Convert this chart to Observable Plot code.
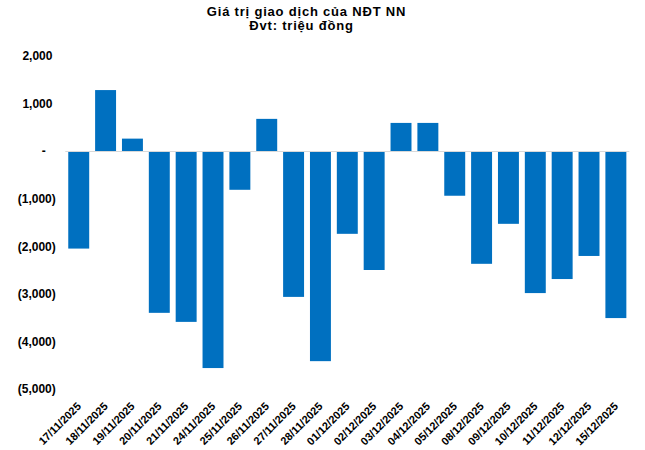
<!DOCTYPE html>
<html>
<head>
<meta charset="utf-8">
<script src="https://cdn.jsdelivr.net/npm/d3@7"></script>
<script src="https://cdn.jsdelivr.net/npm/@observablehq/plot@0.6"></script>
<style>
  html, body { margin: 0; padding: 0; background: #fff; }
  #wrap { position: relative; width: 645px; height: 450px; }
  .ttl { position: absolute; left: 0; text-align: center; white-space: nowrap;
    font: bold 13px "Liberation Sans", Arial, sans-serif; letter-spacing: 0.8px; line-height: 14px; color: #000; }
  #t1 { top: 5px; width: 613px; }
  #t2 { top: 19px; width: 603px; }
  svg text { font-family: "Liberation Sans", Arial, sans-serif; }
</style>
</head>
<body>
<div id="wrap">
  <div class="ttl" id="t1">Giá trị giao dịch của NĐT NN</div>
  <div class="ttl" id="t2">Đvt: triệu đồng</div>
</div>
<script>
const dates = ["17/11/2025","18/11/2025","19/11/2025","20/11/2025","21/11/2025","24/11/2025","25/11/2025","26/11/2025","27/11/2025","28/11/2025","01/12/2025","02/12/2025","03/12/2025","04/12/2025","05/12/2025","08/12/2025","09/12/2025","10/12/2025","11/12/2025","12/12/2025","15/12/2025"];
const values = [-2050, 1280, 260, -3400, -3590, -4560, -815, 675, -3065, -4415, -1740, -2500, 590, 590, -940, -2370, -1530, -2985, -2690, -2205, -3510];
const yTicks = [2000, 1000, 0, -1000, -2000, -3000, -4000, -5000];

const data = dates.map((d, i) => ({date: d, value: values[i]}));
const nb = "\u00a0";
const fmt = v => v === 0 ? "-" + nb + nb + nb : v < 0 ? "(" + d3.format(",")(-v) + ")" : d3.format(",")(v) + nb;

const chart = Plot.plot({
  width: 645,
  height: 450,
  marginTop: 55.8,
  marginBottom: 61,
  marginLeft: 65.3,
  marginRight: 15.7,
  style: {fontFamily: "Liberation Sans, Arial, sans-serif", background: "#fff"},
  x: {domain: dates, paddingInner: 0.22, paddingOuter: 0.11, round: false, label: null},
  y: {domain: [-5000, 2000], label: null},
  marks: [
    Plot.barY(data, {x: "date", y: "value", fill: "#0070C0"}),
    Plot.ruleY([0], {stroke: "#d9d9d9", strokeWidth: 1}),
    Plot.axisY({ticks: yTicks, tickFormat: fmt, tickSize: 0, tickPadding: 10, fontSize: 12, fontWeight: "bold", fill: "#000", label: null}),
    Plot.axisX({tickRotate: -45, tickSize: 0, tickPadding: 15, fontSize: 11, fontWeight: "bold", fill: "#000", label: null})
  ]
});
document.getElementById("wrap").prepend(chart);
</script>
</body>
</html>
